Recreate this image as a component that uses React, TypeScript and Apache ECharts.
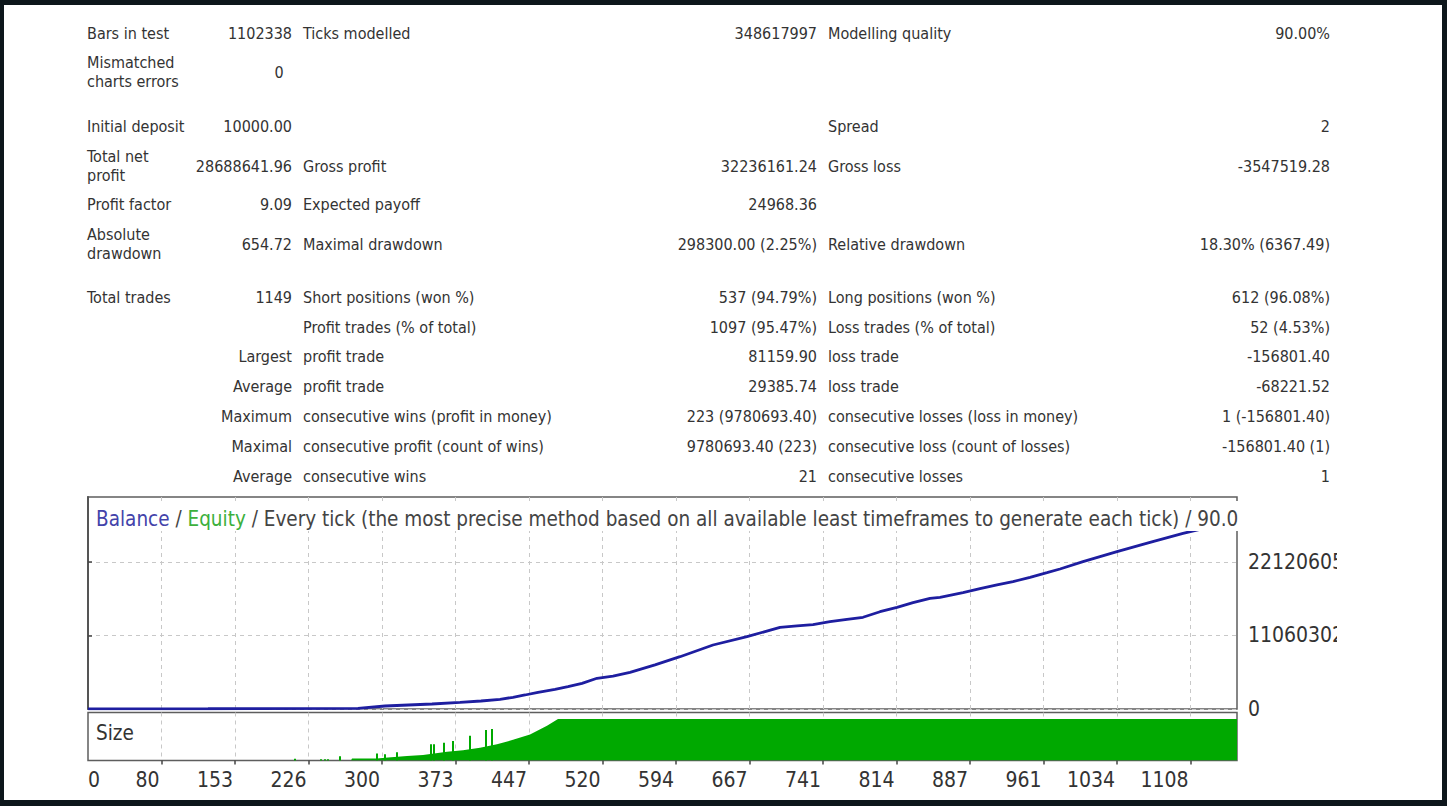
import React, { useEffect, useRef } from 'react';
import * as echarts from 'echarts';

const FONT = '"DejaVu Sans Condensed", "DejaVu Sans", sans-serif';

// ---------- strategy tester report (13 rows, three label/value column pairs) ----------
const reportLabelsA = [
  'Bars in test', 'Mismatched\ncharts errors', 'Initial deposit', 'Total net\nprofit', 'Profit factor',
  'Absolute\ndrawdown', 'Total trades', '', 'Largest', 'Average', 'Maximum', 'Maximal', 'Average',
];
const reportValuesA = ['1102338', '0', '10000.00', '28688641.96', '9.09', '654.72', '1149', '', '', '', '', '', ''];
const reportLabelsB = [
  'Ticks modelled', '', '', 'Gross profit', 'Expected payoff', 'Maximal drawdown', 'Short positions (won %)',
  'Profit trades (% of total)', 'profit trade', 'profit trade', 'consecutive wins (profit in money)',
  'consecutive profit (count of wins)', 'consecutive wins',
];
const reportValuesB = [
  '348617997', '', '', '32236161.24', '24968.36', '298300.00 (2.25%)', '537 (94.79%)', '1097 (95.47%)',
  '81159.90', '29385.74', '223 (9780693.40)', '9780693.40 (223)', '21',
];
const reportLabelsC = [
  'Modelling quality', '', 'Spread', 'Gross loss', '', 'Relative drawdown', 'Long positions (won %)',
  'Loss trades (% of total)', 'loss trade', 'loss trade', 'consecutive losses (loss in money)',
  'consecutive loss (count of losses)', 'consecutive losses',
];
const reportValuesC = [
  '90.00%', '', '2', '-3547519.28', '', '18.30% (6367.49)', '612 (96.08%)', '52 (4.53%)',
  '-156801.40', '-68221.52', '1 (-156801.40)', '-156801.40 (1)', '1',
];

// ---------- balance curve (trade number -> account balance) ----------
const balanceTrades = [
  0, 120, 270, 297, 344, 372, 393, 412, 425, 437, 450, 467, 480, 494, 509, 525, 542, 567, 592, 625, 659,
  692, 709, 725, 742, 759, 775, 792, 809, 825, 842, 852, 875, 892, 909, 925, 942, 959, 972, 995, 1029,
  1062, 1095, 1112, 1149,
];
const balanceValues = [
  10000, 40000, 105000, 451000, 752000, 1008000, 1204000, 1460000, 1760000, 2107000, 2513000, 2964000,
  3356000, 3867000, 4620000, 4950000, 5520000, 6650000, 7870000, 9630000, 10880000, 12290000, 12500000,
  12700000, 13140000, 13500000, 13800000, 14640000, 15300000, 16000000, 16660000, 16810000, 17500000,
  18100000, 18660000, 19160000, 19820000, 20510000, 21070000, 22170000, 23670000, 25080000, 26440000,
  27040000, 28698641.96,
];

// ---------- position size (lots) ----------
const sizeTrades = [0, 263, 264, 289, 300, 319, 335, 359, 375, 392, 409, 425, 442, 459, 470, 1149];
const sizeLots = [0, 0, 5, 5, 7, 11, 13, 21, 25, 31, 39, 50, 63, 84, 100, 100];
const sizeSpikeTrades = [207, 233, 237, 240, 252, 289, 297, 309, 343, 346, 356, 365, 382, 398, 404];
const sizeSpikeLots = [4, 3, 3, 3, 10, 17, 15, 20, 39, 39, 43, 47, 60, 74, 76];

// ---------- axes ----------
const tradeTickLabels = ['0', '80', '153', '226', '300', '373', '447', '520', '594', '667', '741', '814', '887', '961', '1034', '1108'];
const balanceTickValues = [0, 11060302.5, 22120605];
const TRADE_STEP = 73.5;
const TRADE_MAX = 1149;
const BALANCE_STEP = 11060302.5;
const BALANCE_MAX = 31900000;
const LOT_MAX = 116;

const chartTitleParts = [
  'Balance', ' / ', 'Equity',
  ' / Every tick (the most precise method based on all available least timeframes to generate each tick) / 90.00%',
];

// ---------- layout ----------
const W = 1447;
const H = 806;
const ROW_Y = [33, 72, 126, 166, 204.5, 244, 297, 327, 356.5, 386, 416.5, 446, 476];
const X_LABEL_A = 87;
const X_VALUE_A = 292;
const X_MISMATCH_VALUE = 279;
const X_LABEL_B = 303;
const X_VALUE_B = 817;
const X_LABEL_C = 828;
const X_VALUE_C = 1330;
const TEXT = '#333333';

const PLOT_LEFT = 88;
const PLOT_WIDTH = 1149;

function reportText(text: string, x: number, y: number, align: string) {
  return {
    type: 'text',
    x,
    y,
    z: 20,
    silent: true,
    style: {
      text,
      fill: TEXT,
      fontSize: 16,
      fontFamily: FONT,
      lineHeight: 19,
      align,
      verticalAlign: 'middle',
    },
  };
}

function buildReport() {
  const out: any[] = [];
  ROW_Y.forEach((y, i) => {
    const la = reportLabelsA[i];
    const va = reportValuesA[i];
    if (la) out.push(reportText(la, va ? X_LABEL_A : X_VALUE_A, y, va ? 'left' : 'right'));
    if (va) {
      if (i === 1) out.push(reportText(va, X_MISMATCH_VALUE, y, 'center'));
      else out.push(reportText(va, X_VALUE_A, y, 'right'));
    }
    if (reportLabelsB[i]) out.push(reportText(reportLabelsB[i], X_LABEL_B, y, 'left'));
    if (reportValuesB[i]) out.push(reportText(reportValuesB[i], X_VALUE_B, y, 'right'));
    if (reportLabelsC[i]) out.push(reportText(reportLabelsC[i], X_LABEL_C, y, 'left'));
    if (reportValuesC[i]) out.push(reportText(reportValuesC[i], X_VALUE_C, y, 'right'));
  });
  return out;
}

const gridDash = { color: '#c8c8c8', width: 1, type: [4, 4] as number[] };
const tradeGridValues = tradeTickLabels.slice(1).map((_, i) => (i + 1) * TRADE_STEP);

export default function App() {
  const ref = useRef<HTMLDivElement>(null);

  useEffect(() => {
    if (!ref.current) return;
    const chart = echarts.init(ref.current, undefined, { renderer: 'svg', width: W, height: H });

    const option: any = {
      animation: false,
      backgroundColor: '#0d161b',
      textStyle: { fontFamily: FONT },
      grid: [
        { left: PLOT_LEFT, top: 497, width: PLOT_WIDTH, height: 212, show: true, borderColor: '#5e5e5e', borderWidth: 1.5, backgroundColor: 'transparent' },
        { left: PLOT_LEFT, top: 712.5, width: PLOT_WIDTH, height: 48, show: true, borderColor: '#5e5e5e', borderWidth: 1.5, backgroundColor: 'transparent' },
      ],
      xAxis: [
        {
          gridIndex: 0, type: 'value', min: 0, max: TRADE_MAX, interval: TRADE_STEP,
          axisLine: { show: false },
          axisTick: { show: false, customValues: tradeGridValues },
          axisLabel: { show: false },
          splitLine: { show: true, lineStyle: gridDash },
        },
        {
          gridIndex: 1, type: 'value', min: 0, max: TRADE_MAX, interval: TRADE_STEP, position: 'bottom',
          axisLine: { show: false },
          axisTick: { show: true, length: 4, customValues: tradeGridValues, lineStyle: { color: '#444', width: 1.5 } },
          axisLabel: {
            customValues: tradeTickLabels.map((_, i) => i * TRADE_STEP),
            formatter: (v: number) => tradeTickLabels[Math.round(v / TRADE_STEP)] ?? '',
            align: 'right',
            alignMinLabel: 'left',
            padding: [0, 2, 0, 0],
            margin: 9,
            fontSize: 21,
            color: TEXT,
            fontFamily: FONT,
          },
          splitLine: { show: true, lineStyle: gridDash },
        },
      ],
      yAxis: [
        {
          gridIndex: 0, type: 'value', position: 'right', min: 0, max: BALANCE_MAX, interval: BALANCE_STEP,
          axisLine: { show: true, lineStyle: { color: '#555', width: 2 } },
          axisTick: { show: true, length: 4, customValues: balanceTickValues, lineStyle: { color: '#444', width: 1.5 } },
          axisLabel: {
            customValues: balanceTickValues,
            formatter: (v: number) => String(Math.floor(v)),
            margin: 11,
            padding: [9, 0, 0, 0],
            fontSize: 21,
            color: TEXT,
            fontFamily: FONT,
          },
          splitLine: { show: true, lineStyle: gridDash },
        },
        {
          gridIndex: 1, type: 'value', min: 0, max: LOT_MAX, show: false,
          splitLine: { show: false },
        },
      ],
      series: [
        {
          name: 'Balance', type: 'line', xAxisIndex: 0, yAxisIndex: 0,
          data: balanceTrades.map((t, i) => [t, balanceValues[i]]),
          symbol: 'none', lineStyle: { color: '#1e1ea0', width: 2.8 }, z: 3,
        },
        {
          name: 'Size', type: 'line', xAxisIndex: 1, yAxisIndex: 1,
          data: sizeTrades.map((t, i) => [t, sizeLots[i]]),
          symbol: 'none', lineStyle: { width: 0 }, areaStyle: { color: '#00a900', opacity: 1 }, z: 2,
        },
        {
          name: 'Size spikes', type: 'bar', xAxisIndex: 1, yAxisIndex: 1,
          data: sizeSpikeTrades.map((t, i) => [t, sizeSpikeLots[i]]),
          barWidth: 2, itemStyle: { color: '#00a900' }, z: 2,
        },
      ],
      graphic: [
        // white report page
        { type: 'rect', z: -100, silent: true, shape: { x: 4, y: 5, width: 1438, height: 795 }, style: { fill: '#ffffff' } },
        ...buildReport(),
        // chart caption with its own white band
        {
          type: 'text', x: 96, y: 516, z: 50, silent: true,
          style: {
            text: `{b|${chartTitleParts[0]}}{s|${chartTitleParts[1]}}{e|${chartTitleParts[2]}}{s|${chartTitleParts[3]}}`,
            fontSize: 20.5, fontFamily: FONT, verticalAlign: 'middle', align: 'left',
            backgroundColor: '#ffffff', padding: [7, 0, 2, 0],
            rich: {
              b: { fill: '#4343aa', fontSize: 20.5, fontFamily: FONT },
              e: { fill: '#3cb03c', fontSize: 20.5, fontFamily: FONT },
              s: { fill: '#444444', fontSize: 20.5, fontFamily: FONT },
            },
          },
        },
        // caption runs past the plot edge and is cut there
        { type: 'rect', z: 60, silent: true, shape: { x: 1238.5, y: 498, width: 203, height: 31 }, style: { fill: '#ffffff' } },
        // price scale labels are cut by the narrow scale pane
        { type: 'rect', z: 60, silent: true, shape: { x: 1337, y: 548, width: 104, height: 100 }, style: { fill: '#ffffff' } },
        {
          type: 'text', x: 96, y: 732.5, z: 50, silent: true,
          style: { text: 'Size', fill: TEXT, fontSize: 20.5, fontFamily: FONT, verticalAlign: 'middle', align: 'left' },
        },
      ],
    };

    chart.setOption(option);
    return () => chart.dispose();
  }, []);

  return (
    <div style={{ position: 'fixed', left: 0, top: 0, width: W, height: H, background: '#0d161b' }}>
      <div ref={ref} style={{ width: W, height: H }} />
    </div>
  );
}
